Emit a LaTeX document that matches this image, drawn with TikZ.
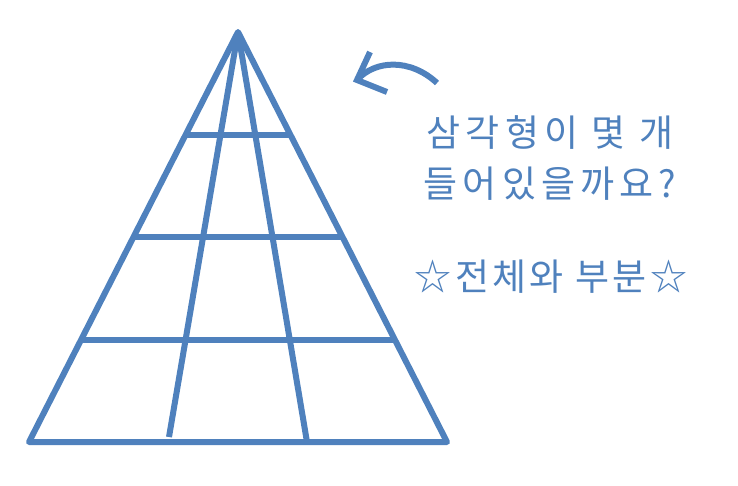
\documentclass[tikz,border=0pt]{standalone}
\usepackage{fontspec}
\usetikzlibrary{calc}
\newfontfamily\kor[LetterSpace=14]{Noto Sans CJK KR}
\newfontfamily\korstar[LetterSpace=9]{Noto Sans CJK KR}
\definecolor{pyrblue}{RGB}{79,129,189}
\tikzset{label text/.style={font=\kor\fontsize{37}{44}\selectfont,text=pyrblue}}
\begin{document}
\begin{tikzpicture}[x=1pt,y=-1pt,line width=6pt,draw=pyrblue]
      \useasboundingbox (0,0) rectangle (738,485);
      \coordinate (top) at (238,32);
      \coordinate (bl) at (29,442);
      \coordinate (br) at (447,442);
      \draw[line join=round] (bl) -- (top) -- (br) -- cycle;
      \draw (top) -- (169,437);
      \draw (top) -- (307,442);
      \foreach \t in {0.25,0.5,0.75}
        \draw ($(top)!\t!(bl)$) -- ($(top)!\t!(br)$);
      \coordinate (tail) at (437,83);
      \coordinate (tip) at (357,80);
      \draw (tail) .. controls (410,58) and (375,60) .. (tip);
      \draw (370,52) -- (tip) -- (387,92);
      \node[label text] (question) at (550,133) {삼각형이 몇 개};
      \node[label text] (question2) at (550,184) {들어있을까요?};
      \node[label text,font=\korstar\fontsize{37}{44}\selectfont] (wholepart) at (551,277) {☆전체와 부분☆};
\end{tikzpicture}
\end{document}
